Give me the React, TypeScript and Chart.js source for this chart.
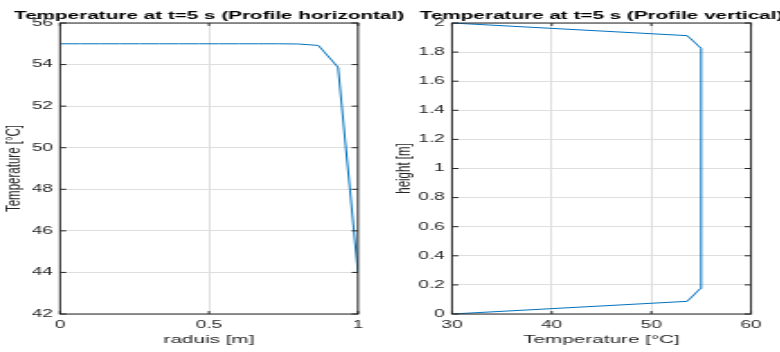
import React, { useEffect, useRef } from "react";
import { Chart, registerables } from "chart.js";

Chart.register(...registerables);

// ---- data ----
const radius = [0, 0.067, 0.133, 0.2, 0.267, 0.333, 0.4, 0.467, 0.533, 0.6, 0.667, 0.733, 0.8, 0.867, 0.933, 1.0];
const tempHorizontal = [55, 55, 55, 55, 55, 55, 55, 55, 55, 55, 55, 55, 54.99, 54.92, 53.87, 44.0];

const height = [0, 0.087, 0.174, 0.261, 0.348, 0.435, 0.522, 0.609, 0.696, 0.783, 0.87, 0.957, 1.043, 1.13, 1.217, 1.304, 1.391, 1.478, 1.565, 1.652, 1.739, 1.826, 1.913, 2.0];
const tempVertical = [30, 53.6, 54.9, 55, 55, 55, 55, 55, 55, 55, 55, 55, 55, 55, 55, 55, 55, 55, 55, 55, 55, 54.9, 53.6, 30];

const leftXTicks = [0, 0.5, 1];
const leftXTickLabels = ["0", "0.5", "1"];
const leftYTicks = [42, 44, 46, 48, 50, 52, 54, 56];
const leftYTickLabels = ["42", "44", "46", "48", "50", "52", "54", "56"];

const rightXTicks = [30, 40, 50, 60];
const rightXTickLabels = ["30", "40", "50", "60"];
const rightYTicks = [0, 0.2, 0.4, 0.6, 0.8, 1, 1.2, 1.4, 1.6, 1.8, 2];
const rightYTickLabels = ["0", "0.2", "0.4", "0.6", "0.8", "1", "1.2", "1.4", "1.6", "1.8", "2"];

const leftTitle = "Temperature at t=5 s (Profile horizontal)";
const rightTitle = "Temperature at t=5 s (Profile vertical)";
const leftXLabel = "raduis [m]";
const leftYLabel = "Temperature [°C]";
const rightXLabel = "Temperature [°C]";
const rightYLabel = "height [m]";

// ---- layout ----
const STRETCH = 1.8; // horizontal stretch of the whole figure
const INTERNAL_W = 240;
const H = 352;
const FONT = '"Liberation Sans", Arial, Helvetica, sans-serif';
const AXIS_COLOR = "#262626";
const LINE_COLOR = "#0072BD";
const GRID_COLOR = "#dedede";

const matlabPlugin = {
  id: "matlab",
  afterDraw(chart: any, _args: any, opts: any) {
    const { ctx, chartArea: a } = chart;
    const xs = chart.scales.x;
    const ys = chart.scales.y;
    ctx.save();
    // box
    ctx.strokeStyle = AXIS_COLOR;
    ctx.lineWidth = 1;
    ctx.strokeRect(a.left, a.top, a.right - a.left, a.bottom - a.top);
    // inward ticks
    ctx.beginPath();
    xs.ticks.forEach((t: any) => {
      const px = xs.getPixelForValue(t.value);
      ctx.moveTo(px, a.bottom);
      ctx.lineTo(px, a.bottom - 3);
      ctx.moveTo(px, a.top);
      ctx.lineTo(px, a.top + 3);
    });
    ys.ticks.forEach((t: any) => {
      const py = ys.getPixelForValue(t.value);
      ctx.moveTo(a.left, py);
      ctx.lineTo(a.left + 3.5, py);
      ctx.moveTo(a.right, py);
      ctx.lineTo(a.right - 3.5, py);
    });
    ctx.stroke();
    const cx = (a.left + a.right) / 2;
    // title
    ctx.fillStyle = "#000";
    ctx.font = `bold 11.5px ${FONT}`;
    ctx.textAlign = "center";
    ctx.textBaseline = "alphabetic";
    ctx.fillText(opts.title, cx, 18.5);
    // x label
    ctx.fillStyle = AXIS_COLOR;
    ctx.font = `11.5px ${FONT}`;
    ctx.fillText(opts.xLabel, cx, 342.5);
    // y label
    ctx.translate(opts.yLabelX, (a.top + a.bottom) / 2);
    ctx.rotate(-Math.PI / 2);
    ctx.textBaseline = "middle";
    ctx.fillText(opts.yLabel, 0, 0);
    ctx.restore();
  },
};

function makeConfig(p: {
  xs: number[];
  ys: number[];
  xMin: number;
  xMax: number;
  yMin: number;
  yMax: number;
  xTicks: number[];
  xTickLabels: string[];
  yTicks: number[];
  yTickLabels: string[];
  yAxisWidth: number;
  rightPad: number;
  title: string;
  xLabel: string;
  yLabel: string;
  yLabelX: number;
}) {
  const tickFont = { family: FONT, size: 10.5 };
  return {
    type: "scatter" as const,
    data: {
      datasets: [
        {
          data: p.xs.map((x, i) => ({ x, y: p.ys[i] })),
          showLine: true,
          borderColor: LINE_COLOR,
          backgroundColor: LINE_COLOR,
          borderWidth: 1,
          pointRadius: 0,
          tension: 0,
        },
      ],
    },
    options: {
      animation: false,
      responsive: false,
      events: [],
      layout: { padding: { top: 23, right: p.rightPad, left: 0, bottom: 0 } },
      plugins: {
        legend: { display: false },
        tooltip: { enabled: false },
        title: { display: false },
        matlab: { title: p.title, xLabel: p.xLabel, yLabel: p.yLabel, yLabelX: p.yLabelX },
      },
      scales: {
        x: {
          type: "linear",
          min: p.xMin,
          max: p.xMax,
          afterBuildTicks: (s: any) => {
            s.ticks = p.xTicks.map((v) => ({ value: v }));
          },
          afterFit: (s: any) => {
            s.height = 38;
          },
          ticks: {
            callback: (_v: any, i: number) => p.xTickLabels[i],
            font: tickFont,
            color: AXIS_COLOR,
            padding: 5,
            maxRotation: 0,
            autoSkip: false,
          },
          grid: { color: GRID_COLOR, lineWidth: 1, drawTicks: false },
          border: { display: false },
        },
        y: {
          type: "linear",
          min: p.yMin,
          max: p.yMax,
          afterBuildTicks: (s: any) => {
            s.ticks = p.yTicks.map((v) => ({ value: v }));
          },
          afterFit: (s: any) => {
            s.width = p.yAxisWidth;
          },
          ticks: {
            callback: (_v: any, i: number) => p.yTickLabels[i],
            font: tickFont,
            color: AXIS_COLOR,
            padding: 4,
            autoSkip: false,
          },
          grid: { color: GRID_COLOR, lineWidth: 1, drawTicks: false },
          border: { display: false },
        },
      },
    },
    plugins: [matlabPlugin],
  };
}

export default function App() {
  const leftRef = useRef<HTMLCanvasElement>(null);
  const rightRef = useRef<HTMLCanvasElement>(null);

  useEffect(() => {
    const left = new Chart(
      leftRef.current as HTMLCanvasElement,
      makeConfig({
        xs: radius,
        ys: tempHorizontal,
        xMin: 0,
        xMax: 1,
        yMin: 42,
        yMax: 56,
        xTicks: leftXTicks,
        xTickLabels: leftXTickLabels,
        yTicks: leftYTicks,
        yTickLabels: leftYTickLabels,
        yAxisWidth: 60 / STRETCH,
        rightPad: INTERNAL_W - 358 / STRETCH,
        title: leftTitle,
        xLabel: leftXLabel,
        yLabel: leftYLabel,
        yLabelX: 13.7 / STRETCH,
      }) as any
    );
    const right = new Chart(
      rightRef.current as HTMLCanvasElement,
      makeConfig({
        xs: tempVertical,
        ys: height,
        xMin: 30,
        xMax: 60,
        yMin: 0,
        yMax: 2,
        xTicks: rightXTicks,
        xTickLabels: rightXTickLabels,
        yTicks: rightYTicks,
        yTickLabels: rightYTickLabels,
        yAxisWidth: (452 - 390) / STRETCH,
        rightPad: INTERNAL_W - (751 - 390) / STRETCH,
        title: rightTitle,
        xLabel: rightXLabel,
        yLabel: rightYLabel,
        yLabelX: (404 - 390) / STRETCH,
      }) as any
    );
    return () => {
      left.destroy();
      right.destroy();
    };
  }, []);

  const cssW = INTERNAL_W * STRETCH;
  return (
    <div
      style={{
        position: "fixed",
        left: 0,
        top: 0,
        width: 780,
        height: H,
        overflow: "hidden",
        background: "#fff",
      }}
    >
      <canvas
        ref={leftRef}
        width={INTERNAL_W}
        height={H}
        style={{ position: "absolute", left: 0, top: 0, width: cssW, height: H, display: "block" }}
      />
      <canvas
        ref={rightRef}
        width={INTERNAL_W}
        height={H}
        style={{ position: "absolute", left: 390, top: 0, width: cssW, height: H, display: "block" }}
      />
    </div>
  );
}
